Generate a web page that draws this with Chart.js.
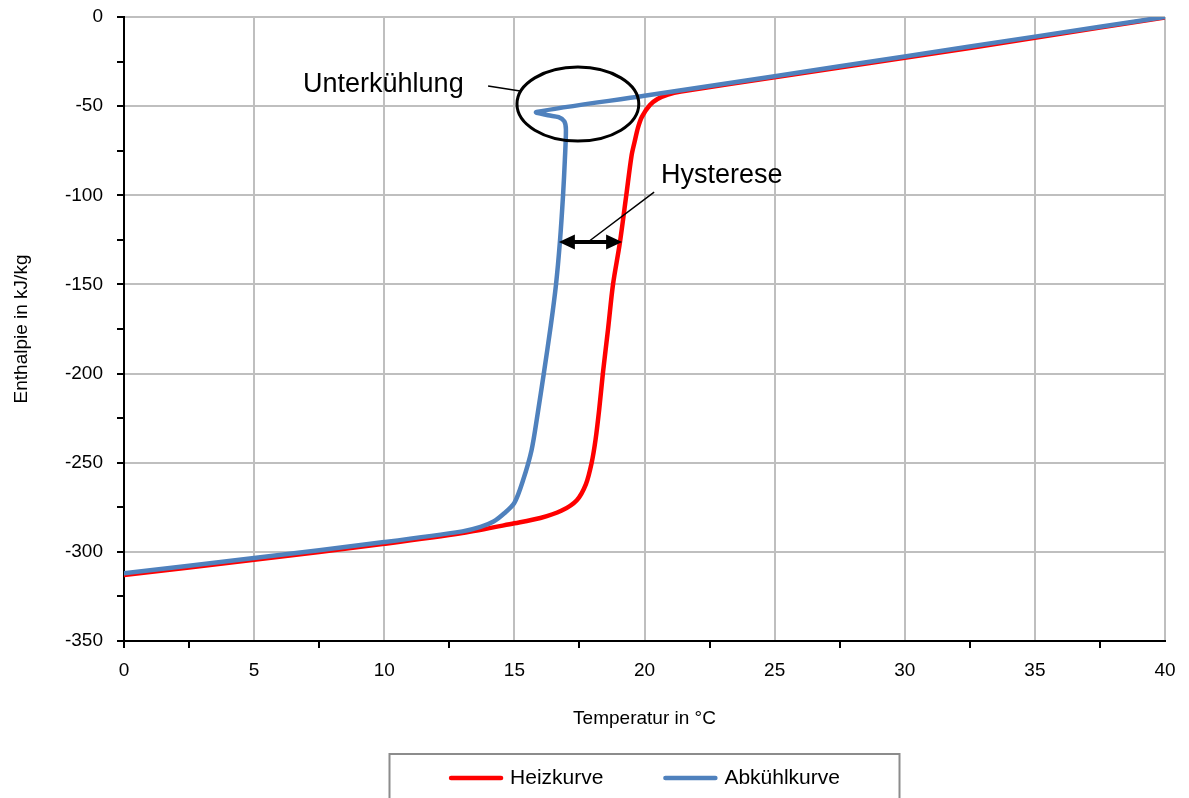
<!DOCTYPE html>
<html>
<head>
<meta charset="utf-8">
<title>Enthalpie</title>
<script src="https://cdn.jsdelivr.net/npm/chart.js@4.4.1/dist/chart.umd.min.js"></script>
<style>
    html, body { margin: 0; padding: 0; background: #fff; }
    #wrap { width: 1189px; height: 798px; }
</style>
</head>
<body>
<div id="wrap"><canvas id="chart" width="1189" height="798"></canvas></div>
<script>
// Heizkurve (Aufheizen)
const heizTemp = [0, 5, 10, 13, 15, 16, 16.8, 17.4, 17.75, 17.97, 18.12, 18.26, 18.4, 18.6, 18.79, 19.05, 19.3, 19.5, 19.62, 19.75, 19.9, 20.2, 20.5, 20.9, 21.4, 25, 30, 35, 40];
const heizEnth = [-313, -304.5, -295.5, -289.5, -284, -281, -277, -271, -262, -250, -237, -220, -200, -175, -150, -127, -100, -78, -70, -62, -56, -49.5, -46, -43.5, -41.8, -33.8, -22.9, -11.7, -0.2];

// Abkühlkurve (mit Unterkühlung)
const kuehlTemp = [0, 5, 10, 13, 13.7, 14.2, 14.6, 15.0, 15.33, 15.66, 15.9, 16.13, 16.4, 16.6, 16.75, 16.87, 16.94, 16.98, 16.92, 16.7, 16.3, 15.85, 20, 25, 30, 35, 40];
const kuehlEnth = [-312, -303.5, -294.5, -288.5, -286, -283, -278.5, -272.5, -260, -243, -222, -200, -173, -150, -126, -100, -80, -63, -58.5, -56.2, -55.1, -53.3, -44.2, -33.2, -22.1, -11, 0];

const seriesNames = ["Heizkurve", "Abkühlkurve"];

// Beschriftungen im Diagramm (Datenkoordinaten)
const ringCenter = [17.44, -48.8];
const ringRadius = [2.34, 20.75];
const unterLabel = [6.88, -42.1];
const unterLeader = [[13.99, -38.7], [15.22, -41.5]];
const hystLabel = [20.63, -93.1];
const hystLeader = [[20.37, -98.2], [17.83, -126.2]];
const hystArrow = [[16.71, -126.2], [19.14, -126.2]];

const toPoints = (xs, ys) => xs.map((x, i) => ({ x, y: ys[i] }));

Chart.defaults.font.family = "'Liberation Sans', Arial, sans-serif";
Chart.defaults.color = "#000";

// kleine Teilstriche an den Achsen
const axisTicks = {
    id: "axisTicks",
    afterDraw(chart) {
        const { ctx, scales: { x, y }, chartArea } = chart;
        ctx.save();
        ctx.strokeStyle = "#000";
        ctx.lineWidth = 2;
        ctx.beginPath();
        for (let v = -350; v <= 0; v += 25) {
            const py = Math.round(y.getPixelForValue(v));
            ctx.moveTo(chartArea.left - 7, py);
            ctx.lineTo(chartArea.left, py);
        }
        for (let v = 0; v <= 40; v += 2.5) {
            if (v % 5 === 0 && v !== 0) continue;
            const px = Math.round(x.getPixelForValue(v));
            ctx.moveTo(px, chartArea.bottom);
            ctx.lineTo(px, chartArea.bottom + 7);
        }
        ctx.stroke();
        ctx.restore();
    }
};

// Unterkühlung / Hysterese
const annotations = {
    id: "annotations",
    afterDatasetsDraw(chart) {
        const { ctx, scales: { x, y } } = chart;
        const px = v => x.getPixelForValue(v);
        const py = v => y.getPixelForValue(v);
        ctx.save();
        ctx.strokeStyle = "#000";
        ctx.fillStyle = "#000";

        ctx.lineWidth = 3;
        ctx.beginPath();
        ctx.ellipse(px(ringCenter[0]), py(ringCenter[1]),
            px(ringCenter[0] + ringRadius[0]) - px(ringCenter[0]),
            py(ringCenter[1] - ringRadius[1]) - py(ringCenter[1]),
            0, 0, Math.PI * 2);
        ctx.stroke();

        ctx.lineWidth = 1.5;
        ctx.beginPath();
        ctx.moveTo(px(unterLeader[0][0]), py(unterLeader[0][1]));
        ctx.lineTo(px(unterLeader[1][0]), py(unterLeader[1][1]));
        ctx.moveTo(px(hystLeader[0][0]), py(hystLeader[0][1]));
        ctx.lineTo(px(hystLeader[1][0]), py(hystLeader[1][1]));
        ctx.stroke();

        // Doppelpfeil
        const x1 = px(hystArrow[0][0]), x2 = px(hystArrow[1][0]);
        const ay = py(hystArrow[0][1]);
        const head = 16, half = 7.5;
        ctx.lineWidth = 4;
        ctx.beginPath();
        ctx.moveTo(x1 + head - 2, ay);
        ctx.lineTo(x2 - head + 2, ay);
        ctx.stroke();
        ctx.beginPath();
        ctx.moveTo(x1, ay);
        ctx.lineTo(x1 + head, ay - half);
        ctx.lineTo(x1 + head, ay + half);
        ctx.closePath();
        ctx.moveTo(x2, ay);
        ctx.lineTo(x2 - head, ay - half);
        ctx.lineTo(x2 - head, ay + half);
        ctx.closePath();
        ctx.fill();

        ctx.font = "27px 'Liberation Sans', Arial, sans-serif";
        ctx.textBaseline = "alphabetic";
        ctx.textAlign = "left";
        ctx.fillText("Unterkühlung", px(unterLabel[0]), py(unterLabel[1]));
        ctx.fillText("Hysterese", px(hystLabel[0]), py(hystLabel[1]));
        ctx.restore();
    }
};

// Legende mit Rahmen unter dem Diagramm
const boxLegend = {
    id: "boxLegend",
    afterDraw(chart) {
        const { ctx, chartArea } = chart;
        const mid = (chartArea.left + chartArea.right) / 2;
        ctx.save();
        ctx.strokeStyle = "#8c8c8c";
        ctx.lineWidth = 2;
        ctx.strokeRect(mid - 255, 754, 510, 60);

        ctx.font = "21px 'Liberation Sans', Arial, sans-serif";
        ctx.textBaseline = "middle";
        const lineLen = 54, gap = 7, spacing = 60;
        const items = chart.data.datasets.map(ds => ({
            label: ds.label, color: ds.borderColor,
            w: lineLen + gap + ctx.measureText(ds.label).width
        }));
        const total = items.reduce((s, it) => s + it.w, 0) + spacing * (items.length - 1);
        let cx = mid - total / 2;
        const cy = 778;
        items.forEach(it => {
            ctx.strokeStyle = it.color;
            ctx.lineWidth = 4.5;
            ctx.lineCap = "round";
            ctx.beginPath();
            ctx.moveTo(cx + 2, cy);
            ctx.lineTo(cx + lineLen - 2, cy);
            ctx.stroke();
            ctx.fillStyle = "#000";
            ctx.fillText(it.label, cx + lineLen + gap, cy);
            cx += it.w + spacing;
        });
        ctx.restore();
    }
};

const gridStyle = { color: "#bfbfbf", lineWidth: 2, drawTicks: false };

new Chart(document.getElementById("chart"), {
    type: "scatter",
    data: {
        datasets: [
            {
                label: seriesNames[0],
                data: toPoints(heizTemp, heizEnth),
                borderColor: "#ff0000",
                backgroundColor: "#ff0000",
                order: 2
            },
            {
                label: seriesNames[1],
                data: toPoints(kuehlTemp, kuehlEnth),
                borderColor: "#4f81bd",
                backgroundColor: "#4f81bd",
                order: 1
            }
        ]
    },
    options: {
        responsive: false,
        devicePixelRatio: 1,
        animation: false,
        layout: { padding: { left: 0, right: 0, top: 0, bottom: 45 } },
        datasets: {
            scatter: {
                showLine: true,
                pointRadius: 0,
                borderWidth: 4.5,
                tension: 0.3,
                borderCapStyle: "round",
                borderJoinStyle: "round"
            }
        },
        plugins: {
            legend: { display: false },
            tooltip: { enabled: false }
        },
        scales: {
            x: {
                type: "linear",
                min: 0,
                max: 40,
                ticks: { stepSize: 5, padding: 18, font: { size: 19 }, color: "#000" },
                grid: gridStyle,
                border: { color: "#000", width: 2 },
                title: {
                    display: true,
                    text: "Temperatur in °C",
                    color: "#000",
                    font: { size: 19 },
                    padding: { top: 0, bottom: 23 }
                },
                afterFit(scale) {
                    scale.height = 112;
                    scale.paddingLeft = 0;
                    scale.paddingRight = 24;
                }
            },
            y: {
                type: "linear",
                min: -350,
                max: 0,
                ticks: { stepSize: 50, padding: 21, font: { size: 19 }, color: "#000" },
                grid: gridStyle,
                border: { color: "#000", width: 2 },
                title: {
                    display: true,
                    text: "Enthalpie in kJ/kg",
                    color: "#000",
                    font: { size: 19 },
                    padding: { top: 10, bottom: 0 }
                },
                afterFit(scale) {
                    scale.width = 124;
                    scale.paddingTop = 17;
                    scale.paddingBottom = 0;
                }
            }
        }
    },
    plugins: [axisTicks, annotations, boxLegend]
});
</script>
</body>
</html>
